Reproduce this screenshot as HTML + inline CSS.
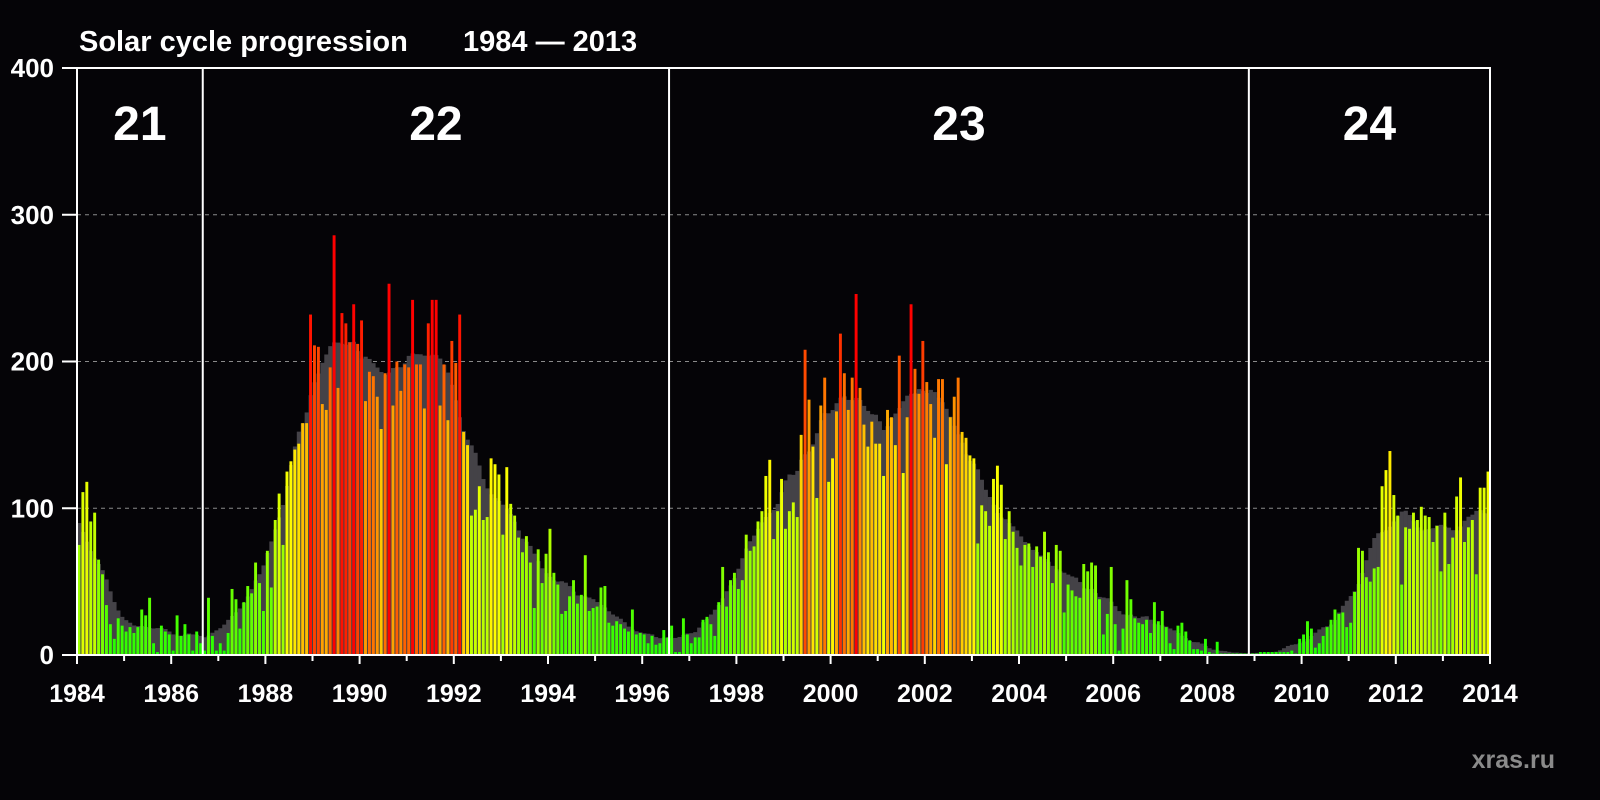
<!DOCTYPE html>
<html><head><meta charset="utf-8"><style>
html,body{margin:0;padding:0;background:#050407;}
svg{display:block;font-family:"Liberation Sans",sans-serif;font-weight:bold;}
</style></head><body>
<svg id="chart" width="1600" height="800" viewBox="0 0 1600 800">
<rect width="1600" height="800" fill="#050407"/>
<text x="79" y="51" fill="#fff" font-size="29">Solar cycle progression</text>
<text x="463" y="51" fill="#fff" font-size="29">1984 — 2013</text>
<text x="1555" y="768" fill="#8a8a8a" font-size="25" text-anchor="end">xras.ru</text>
<g id="grid"></g><g id="smooth"></g><g id="bars"></g><g id="axes"></g>
</svg>
<script>
const startYear = 1984;
const monthly = [75,111,118,91,97,65,55,34,21,11,25,20,16,19,15,19,31,27,39,8,2,20,16,14,3,27,13,21,14,3,16,8,3,39,13,3,8,3,15,45,38,18,36,47,42,
63,49,30,71,46,92,110,75,125,132,140,144,158,158,232,211,210,171,167,196,286,182,233,226,213,239,212,228,173,193,190,176,154,192,253,170,200,180,198,196,242,198,198,168,226,242,242,170,198,160,
214,199,232,152,143,95,99,115,92,94,134,130,123,82,128,103,95,80,70,81,63,32,72,49,69,86,56,48,28,30,40,51,35,41,68,30,32,33,46,47,22,20,23,21,18,16,31,14,
15,14,8,13,7,8,17,12,20,2,2,25,14,8,12,12,24,26,21,13,36,60,33,51,56,45,51,82,71,74,91,98,122,133,79,98,120,86,98,104,94,150,208,174,142,107,170,
189,118,134,166,219,192,167,189,246,182,157,142,159,144,144,122,167,162,143,204,124,162,239,195,178,214,186,171,148,188,188,130,162,176,189,152,148,136,134,76,102,98,88,120,129,116,79,98,
84,73,61,75,76,60,74,67,84,70,49,75,71,29,48,44,40,39,62,57,63,61,38,14,28,60,21,3,18,51,38,25,22,21,24,15,36,23,30,19,8,4,20,22,16,10,
4,4,3,11,2,1,9,1,1,1,1,1,1,1,1,1,1,2,2,2,2,2,2,2,2,3,1,11,14,23,18,5,8,13,19,24,31,28,29,19,22,43,73,71,53,50,59,60,115,
126,139,109,95,48,87,86,97,92,101,95,94,77,88,57,97,62,80,108,121,77,87,92,55,114,114,125];
const yTicks = [0,100,200,300,400];
const xTickLabels = [1984,1986,1988,1990,1992,1994,1996,1998,2000,2002,2004,2006,2008,2010,2012,2014];
const cycleNames = ["21","22","23","24"];
const cycleStarts = [1984, 1986.67, 1996.57, 2008.88];
const cycleEnds = [1986.67, 1996.57, 2008.88, 2014];

const X0=77,X1=1490,Y0=655,Y1=68;
const x = t => X0 + (t-1984)/30*(X1-X0);
const y = v => Y0 - v/400*(Y0-Y1);
const NS="http://www.w3.org/2000/svg";
function mk(tag, parent, attrs){const e=document.createElementNS(NS,tag);for(const k in attrs)e.setAttribute(k,attrs[k]);document.getElementById(parent).appendChild(e);return e;}

const smoothed = monthly.map((v,i)=>{let s=0,w=0;for(let k=-6;k<=6;k++){const j=i+k;if(j<0||j>=monthly.length)continue;const ww=(Math.abs(k)==6)?0.5:1;s+=monthly[j]*ww;w+=ww;}return s/w;});

function color(v){let h; if(v<=130) h=115-55*v/130; else h=Math.max(0,60-60*(v-130)/110); return `hsl(${h},100%,50%)`;}

[100,200,300].forEach(v=>{
 const l=mk('line','grid',{x1:X0,x2:X1,y1:y(v),y2:y(v),stroke:'#8a8a8a','stroke-width':1,'stroke-dasharray':'4,4'});
 
 
});
const mw=(X1-X0)/360;
smoothed.forEach((v,i)=>{
 const t=startYear+i/12;
 const r=mk('rect','smooth',{x:x(t),y:y(v),width:mw+0.3,height:Y0-y(v),fill:'#444247'});
 
 
});
monthly.forEach((v,i)=>{
 const t=startYear+i/12;
 const r=mk('rect','bars',{x:x(t)+0.5,y:y(v),width:mw-1,height:Y0-y(v),fill:color(v)});
 
 
});
const fr=mk('path','axes',{d:`M${X0},${Y1} H${X1} V${Y0} H${X0} Z`,fill:'none',stroke:'#fff','stroke-width':2});


cycleStarts.forEach((s,i)=>{
 if(i>0){const l=mk('line','axes',{x1:x(s),x2:x(s),y1:Y1,y2:Y0,stroke:'#fff','stroke-width':2});
 
 }
 const tx=mk('text','axes',{x:(x(s)+x(cycleEnds[i]))/2,y:140,fill:'#fff','font-size':48,'text-anchor':'middle'});
 tx.textContent=cycleNames[i];
 
 
});
yTicks.forEach(v=>{
 const l=mk('line','axes',{x1:X0-15,x2:X0,y1:y(v),y2:y(v),stroke:'#fff','stroke-width':2});
 
 
 const t=mk('text','axes',{x:54,y:y(v)+9,fill:'#fff','font-size':26,'text-anchor':'end'});
 t.textContent=v;
 
 
});
for(let yr=1984;yr<=2014;yr++){
 const l=mk('line','axes',{x1:x(yr),x2:x(yr),y1:Y0,y2:Y0+(yr%2==0?9:6),stroke:'#fff','stroke-width':2});
 
 
}
xTickLabels.forEach(yr=>{
 const t=mk('text','axes',{x:x(yr),y:702,fill:'#fff','font-size':25,'text-anchor':'middle'});
 t.textContent=yr;
 
 
});
</script>
</body></html>
